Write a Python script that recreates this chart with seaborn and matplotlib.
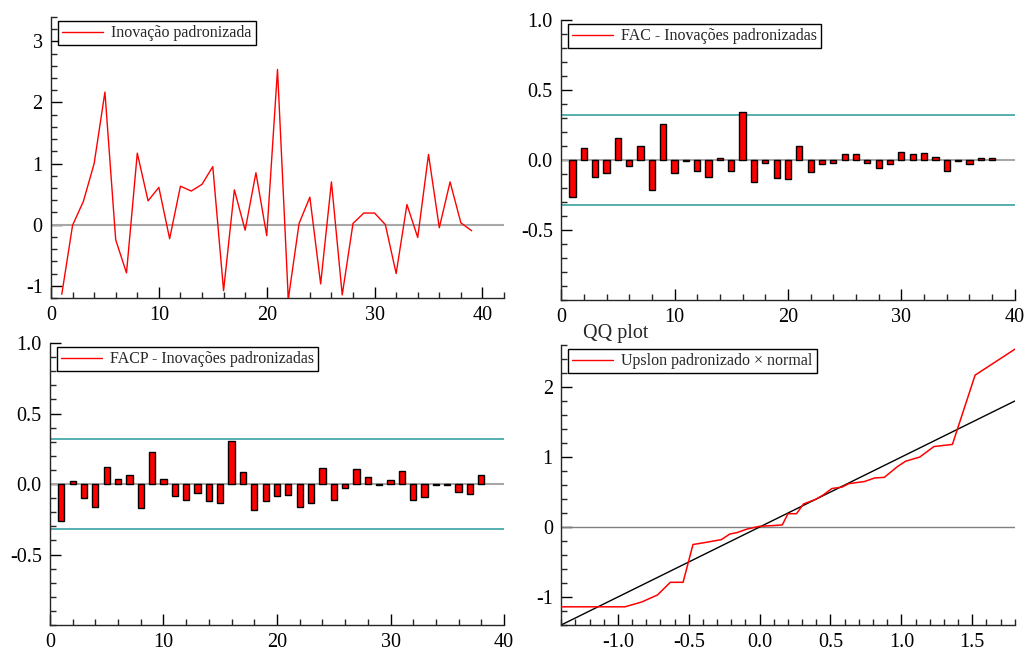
import numpy as np
import pandas as pd
import matplotlib
matplotlib.use("Agg")
import matplotlib.pyplot as plt
from matplotlib.lines import Line2D
from matplotlib.ticker import MultipleLocator, FormatStrFormatter
import seaborn as sns

# ---------------- data ----------------
t = list(range(1, 40))
innov = [-1.14, -0.01, 0.38, 1.00, 2.17, -0.25, -0.79, 1.17, 0.39, 0.61,
         -0.23, 0.63, 0.55, 0.66, 0.95, -1.08, 0.57, -0.09, 0.85, -0.18,
         2.54, -1.22, 0.02, 0.45, -0.97, 0.70, -1.15, 0.02, 0.19, 0.19,
         0.00, -0.80, 0.33, -0.21, 1.15, -0.05, 0.70, 0.03, -0.10]

lags = list(range(1, 39))
acf = [-0.264, 0.088, -0.124, -0.093, 0.160, -0.040, 0.098, -0.214, 0.260, -0.093,
       -0.005, -0.076, -0.119, 0.017, -0.076, 0.345, -0.160, -0.019, -0.129, -0.138,
       0.102, -0.083, -0.031, -0.021, 0.045, 0.040, -0.021, -0.055, -0.029, 0.055,
       0.045, 0.048, 0.019, -0.076, -0.005, -0.026, 0.012, 0.017]
pacf = [-0.264, 0.021, -0.102, -0.162, 0.119, 0.033, 0.064, -0.171, 0.226, 0.033,
        -0.083, -0.112, -0.067, -0.124, -0.138, 0.305, 0.083, -0.183, -0.124, -0.088,
        -0.079, -0.160, -0.136, 0.112, -0.114, -0.031, 0.107, 0.048, -0.010, 0.031,
        0.093, -0.114, -0.093, -0.010, -0.010, -0.057, -0.071, 0.064]
conf_band = 0.32

qq_x = [-1.40, -0.95, -0.83, -0.72, -0.63, -0.54, -0.47, -0.38, -0.27, -0.21,
        -0.16, -0.09, 0.00, 0.09, 0.16, 0.20, 0.26, 0.31, 0.35, 0.40,
        0.45, 0.51, 0.58, 0.63, 0.74, 0.81, 0.88, 0.97, 1.03, 1.13,
        1.23, 1.36, 1.52, 1.80]
qq_y = [-1.14, -1.14, -1.07, -0.97, -0.79, -0.79, -0.25, -0.22, -0.18, -0.10,
        -0.08, -0.03, 0.01, 0.02, 0.03, 0.19, 0.19, 0.33, 0.36, 0.40,
        0.46, 0.55, 0.57, 0.62, 0.65, 0.70, 0.71, 0.86, 0.94, 1.00,
        1.15, 1.18, 2.17, 2.54]
ref_line = [-1.4, 1.8]

labels = ["Inovação padronizada", "FAC - Inovações padronizadas",
          "FACP - Inovações padronizadas", "Upslon padronizado × normal"]

# ---------------- style ----------------
sns.set_theme(style="ticks")
plt.rcParams["font.family"] = ["Liberation Serif", "DejaVu Serif"]
plt.rcParams["axes.unicode_minus"] = False
plt.rcParams["axes.linewidth"] = 1.0

fig = plt.figure(figsize=(10.24, 6.52), dpi=100)
ax_tl = fig.add_axes([0.0498, 0.543, 0.4424, 0.431])
ax_tr = fig.add_axes([0.548, 0.540, 0.443, 0.429])
ax_bl = fig.add_axes([0.0488, 0.0414, 0.4434, 0.4325])
ax_br = fig.add_axes([0.548, 0.0414, 0.443, 0.4294])

RED = "#ff0000"
TEAL = "#48a9a9"
GRAY = "#a8a8a8"


def style_axes(ax):
    for s in ["top", "right"]:
        ax.spines[s].set_visible(False)
    ax.tick_params(which="major", direction="in", length=8, width=1,
                   labelsize=14.5, colors="black", pad=6)
    ax.tick_params(which="minor", direction="in", length=4, width=1)
    ax.set_facecolor("white")


def add_legend(ax, text):
    h = Line2D([], [], color=RED, lw=1)
    leg = ax.legend([h], [text], loc="upper left", bbox_to_anchor=(0.015, 0.985),
                    frameon=True, fancybox=False, shadow=False, fontsize=11.5,
                    borderpad=0.25, handlelength=2.6, handletextpad=0.5,
                    borderaxespad=0.0)
    leg.get_frame().set_edgecolor("black")
    leg.get_frame().set_linewidth(1.0)
    leg.get_frame().set_alpha(1)


# ---- top-left: time series ----
df_s = pd.DataFrame({"t": t, "v": innov})
ax_tl.axhline(0, color=GRAY, lw=1.5, zorder=1)
sns.lineplot(data=df_s, x="t", y="v", ax=ax_tl, color=RED, lw=1, zorder=3)
ax_tl.set_xlim(0, 42)
ax_tl.set_ylim(-1.2, 3.4)
ax_tl.xaxis.set_major_locator(MultipleLocator(10))
ax_tl.xaxis.set_minor_locator(MultipleLocator(2))
ax_tl.yaxis.set_major_locator(MultipleLocator(1))
ax_tl.yaxis.set_minor_locator(MultipleLocator(0.2))
ax_tl.yaxis.set_major_formatter(FormatStrFormatter("%d"))
ax_tl.set_xlabel("")
ax_tl.set_ylabel("")
style_axes(ax_tl)
add_legend(ax_tl, labels[0])


# ---- correlogram helper ----
def correlogram(ax, values, label):
    df = pd.DataFrame({"lag": lags, "r": values})
    ax.axhline(0, color=GRAY, lw=1.5, zorder=1)
    sns.barplot(data=df, x="lag", y="r", ax=ax, native_scale=True, width=0.55,
                color=RED, saturation=1, edgecolor="black", linewidth=1, zorder=3)
    ax.axhline(conf_band, color=TEAL, lw=1.3, zorder=2)
    ax.axhline(-conf_band, color=TEAL, lw=1.3, zorder=2)
    ax.set_xlim(0, 40)
    ax.set_ylim(-1, 1)
    ax.xaxis.set_major_locator(MultipleLocator(10))
    ax.xaxis.set_minor_locator(MultipleLocator(2))
    ax.set_yticks([-0.5, 0.0, 0.5, 1.0])
    ax.yaxis.set_minor_locator(MultipleLocator(0.1))
    ax.yaxis.set_major_formatter(FormatStrFormatter("%.1f"))
    ax.xaxis.set_major_formatter(FormatStrFormatter("%d"))
    ax.set_xlabel("")
    ax.set_ylabel("")
    style_axes(ax)
    add_legend(ax, label)


correlogram(ax_tr, acf, labels[1])
correlogram(ax_bl, pacf, labels[2])

# ---- bottom-right: QQ plot ----
df_q = pd.DataFrame({"x": qq_x, "y": qq_y})
ax_br.axhline(0, color="#808080", lw=1, zorder=1)
sns.lineplot(x=ref_line, y=ref_line, ax=ax_br, color="black", lw=1, zorder=2)
sns.lineplot(data=df_q, x="x", y="y", ax=ax_br, color=RED, lw=1.1, zorder=3,
             sort=False, estimator=None)
ax_br.set_xlim(-1.4, 1.8)
ax_br.set_ylim(-1.4, 2.6)
ax_br.xaxis.set_major_locator(MultipleLocator(0.5))
ax_br.xaxis.set_minor_locator(MultipleLocator(0.1))
ax_br.xaxis.set_major_formatter(FormatStrFormatter("%.1f"))
ax_br.yaxis.set_major_locator(MultipleLocator(1))
ax_br.yaxis.set_minor_locator(MultipleLocator(0.2))
ax_br.yaxis.set_major_formatter(FormatStrFormatter("%d"))
ax_br.set_xlabel("")
ax_br.set_ylabel("")
style_axes(ax_br)
add_legend(ax_br, labels[3])
fig.text(583 / 1024, 1 - 333 / 652, "QQ plot", fontsize=14.5, ha="left", va="center")

fig.savefig("out.png", dpi=100, facecolor="white")
